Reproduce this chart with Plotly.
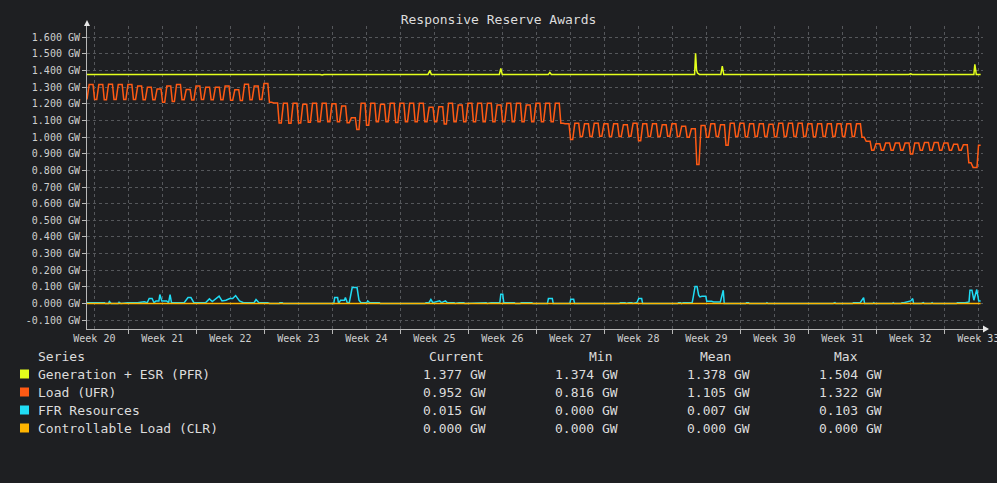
import plotly.graph_objects as go


# --- data (x in days from the left edge of the chart) ---

week_labels = ['Week %d' % w for w in range(20, 34)]

# Generation + ESR (PFR): flat with a few spikes
pfr_t = [0, 7.7, 7.85, 8.0, 15.5, 15.65, 15.8, 24.0, 24.2, 24.4, 35.1, 35.3, 35.45,
         41.0, 41.2, 41.35, 42.45, 42.6, 42.75, 47.5, 47.65, 47.8,
         62.55, 62.65, 62.75, 62.85, 63.05, 65.25, 65.4, 65.55,
         71.5, 71.7, 71.85, 84.6, 84.8, 84.95, 91.3, 91.4, 91.55, 92.0]
pfr_v = [1.377, 1.377, 1.381, 1.377, 1.377, 1.381, 1.377, 1.377, 1.374, 1.377, 1.377, 1.400, 1.377,
         1.377, 1.381, 1.377, 1.377, 1.413, 1.377, 1.377, 1.389, 1.377,
         1.377, 1.504, 1.403, 1.385, 1.377, 1.377, 1.427, 1.377,
         1.377, 1.374, 1.377, 1.377, 1.381, 1.377, 1.377, 1.437, 1.377, 1.377]

# Load (UFR): daily peak and trough, one value per day
load_day_high = [1.317, 1.317, 1.318, 1.317, 1.317, 1.307, 1.300, 1.290, 1.307, 1.317,
                 1.287, 1.307, 1.300, 1.300, 1.307, 1.285, 1.318, 1.307, 1.322,
                 1.205,
                 1.203, 1.203, 1.197, 1.203, 1.203, 1.200, 1.187, 1.117, 1.203, 1.203,
                 1.197, 1.203, 1.203, 1.203, 1.203, 1.179, 1.183, 1.203, 1.193, 1.203,
                 1.203, 1.203, 1.193, 1.203, 1.203, 1.193, 1.203, 1.203, 1.203,
                 1.080,
                 1.083, 1.080, 1.083, 1.080, 1.080, 1.075, 1.083, 1.080, 1.080, 1.075,
                 1.080, 1.065, 1.050, 1.070, 1.080, 1.075, 1.083, 1.083, 1.080, 1.080,
                 1.078, 1.083, 1.083, 1.083, 1.080, 1.080, 1.080, 1.080, 1.080, 1.080,
                 0.975,
                 0.960, 0.965, 0.965, 0.965, 0.965, 0.968, 0.968, 0.965, 0.958,
                 0.955, 0.818]
load_day_low = [1.227, 1.225, 1.227, 1.227, 1.227, 1.225, 1.225, 1.209, 1.215, 1.225,
                1.223, 1.227, 1.225, 1.225, 1.222, 1.220, 1.225, 1.227, 1.210,
                1.085,
                1.083, 1.085, 1.090, 1.093, 1.093, 1.093, 1.087, 1.046, 1.072, 1.093,
                1.093, 1.088, 1.093, 1.093, 1.093, 1.093, 1.079, 1.093, 1.093, 1.093,
                1.093, 1.093, 1.093, 1.093, 1.093, 1.093, 1.093, 1.093, 1.083,
                0.986,
                1.004, 1.004, 1.006, 1.004, 1.004, 1.006, 0.978, 1.004, 1.004, 1.006,
                1.004, 1.000, 0.836, 1.000, 1.004, 0.952, 1.004, 1.002, 1.004, 1.004,
                1.002, 1.004, 1.004, 1.004, 1.002, 1.004, 1.004, 1.004, 1.004, 1.000,
                0.922,
                0.922, 0.922, 0.922, 0.898, 0.922, 0.922, 0.922, 0.922, 0.922,
                0.846, 0.952]

# FFR Resources: mostly zero with small bumps
ffr_t = [0.0, 1.8, 1.9, 2.2, 2.3, 2.5, 3.2, 3.3, 3.5, 4.2, 5.2, 5.6, 5.9, 6.2, 6.4, 6.7, 6.9,
         7.1, 7.4, 7.5, 7.7, 8.2, 8.4, 8.55, 8.7, 10.0, 10.4, 10.7, 11.0, 12.2, 12.6, 12.9,
         13.1, 13.6, 13.9, 14.3, 14.7, 15.0, 15.3, 15.7, 16.1, 17.2, 17.4, 17.7, 18.6, 18.8,
         19.8, 19.85, 20.1, 20.2, 25.4, 25.5, 25.8, 25.9, 26.1, 26.5, 26.6, 26.8, 27.0,
         27.3, 27.8, 28.0, 28.2, 28.8, 28.9, 29.1, 29.8, 30.1, 30.2, 34.8, 34.9, 35.2,
         35.4, 35.6, 36.3, 36.5, 36.9, 37.1, 37.8, 37.9, 38.3, 38.8, 38.9, 40.7, 41.1,
         41.2, 41.6, 42.0, 42.5, 42.6, 42.8, 42.9, 44.0, 44.1, 44.6, 44.7, 45.8, 45.9,
         47.4, 47.5, 47.9, 48.0, 49.7, 49.8, 50.1, 50.2, 54.8, 54.9, 55.4, 55.5, 55.8,
         56.1, 56.2, 56.5, 56.6, 56.8, 57.1, 57.2, 60.8, 60.9, 61.1, 61.2, 61.4, 61.6,
         61.9, 62.3, 62.4, 62.6, 62.8, 62.97, 63.1, 63.3, 63.7, 63.8, 64.3, 64.5, 65.2,
         65.5, 65.6, 67.8, 67.9, 68.1, 68.2, 69.9, 70.0, 70.1, 76.8, 76.9, 77.0, 77.1,
         78.8, 78.9, 79.6, 79.95, 80.05, 80.9, 81.0, 81.1, 82.9, 83.0, 83.1, 83.8, 83.9,
         84.1, 84.8, 85.0, 85.1, 85.9, 86.0, 86.1, 86.2, 86.9, 87.0, 87.1, 89.5, 89.6,
         90.4, 90.8, 90.9, 91.1, 91.3, 91.6, 91.8, 92.0]
ffr_v = [0.005, 0.005, 0.0, 0.0, 0.012, 0.0, 0.0, 0.008, 0.0, 0.005, 0.005, 0.010, 0.010, 0.005, 0.030, 0.030, 0.005,
         0.016, 0.016, 0.054, 0.016, 0.016, 0.005, 0.054, 0.005, 0.005, 0.036, 0.036, 0.005, 0.005, 0.028, 0.012,
         0.020, 0.044, 0.016, 0.020, 0.030, 0.030, 0.048, 0.016, 0.005, 0.005, 0.024, 0.005, 0.005, 0.0,
         0.0, 0.005, 0.005, 0.0, 0.0, 0.036, 0.036, 0.0, 0.020, 0.020, 0.036, 0.005, 0.005,
         0.096, 0.096, 0.020, 0.005, 0.005, 0.016, 0.005, 0.005, 0.005, 0.0, 0.0, 0.005, 0.005,
         0.024, 0.005, 0.016, 0.005, 0.016, 0.005, 0.005, 0.0, 0.005, 0.005, 0.0, 0.005, 0.005,
         0.0, 0.005, 0.005, 0.005, 0.056, 0.056, 0.005, 0.005, 0.0, 0.0, 0.005, 0.005, 0.0,
         0.0, 0.030, 0.030, 0.0, 0.0, 0.026, 0.026, 0.0, 0.0, 0.005, 0.005, 0.0, 0.005,
         0.005, 0.0, 0.005, 0.005, 0.030, 0.030, 0.0, 0.0, 0.005, 0.005, 0.0, 0.005, 0.005,
         0.005, 0.005, 0.036, 0.103, 0.103, 0.050, 0.040, 0.044, 0.044, 0.014, 0.014, 0.010, 0.010,
         0.080, 0.0, 0.0, 0.005, 0.005, 0.0, 0.0, 0.005, 0.0, 0.0, 0.005, 0.005, 0.0,
         0.0, 0.005, 0.005, 0.036, 0.0, 0.0, 0.005, 0.0, 0.0, 0.005, 0.0, 0.0, 0.005,
         0.005, 0.016, 0.030, 0.0, 0.0, 0.005, 0.005, 0.0, 0.0, 0.005, 0.0, 0.0, 0.005,
         0.005, 0.010, 0.080, 0.080, 0.020, 0.084, 0.015, 0.015]

# Controllable Load (CLR): zero throughout
clr_t = [0.0, 92.0]
clr_v = [0.0, 0.0]

series_names = ['Generation + ESR (PFR)', 'Load (UFR)', 'FFR Resources', 'Controllable Load (CLR)']
series_colors = ['#e4ff1c', '#ff5a14', '#20dcf4', '#ffb400']
stat_current = ['1.377 GW', '0.952 GW', '0.015 GW', '0.000 GW']
stat_min = ['1.374 GW', '0.816 GW', '0.000 GW', '0.000 GW']
stat_mean = ['1.378 GW', '1.105 GW', '0.007 GW', '0.000 GW']
stat_max = ['1.504 GW', '1.322 GW', '0.103 GW', '0.000 GW']


# build the daily step shape of the load series from the per-day peak/trough values
load_x = [0.0]
load_y = [load_day_low[0]]
for d, (hi, lo) in enumerate(zip(load_day_high, load_day_low)):
    load_x += [d + 0.22, d + 0.62, d + 0.78, d + 1.0]
    load_y += [hi, hi, lo, lo]


BG = '#1e1f22'
GRID = '#55575b'
AXIS = '#b8b8b8'
TEXT = '#dcdcdc'
MONO = 'DejaVu Sans Mono'

W, H = 997, 483
L, R, T, B = 87, 14, 26, 154


def px(x):
    return (x - L) / (W - L - R)


def py(y):
    return (H - B - y) / (H - T - B)


fig = go.Figure()

for xs, ys, name, color in zip(
    [pfr_t, load_x, ffr_t, clr_t],
    [pfr_v, load_y, ffr_v, clr_v],
    series_names,
    series_colors,
):
    fig.add_trace(go.Scatter(x=xs, y=ys, mode='lines', name=name,
                             line=dict(color=color, width=1.5), showlegend=False))

fig.update_layout(
    width=W,
    height=H,
    paper_bgcolor=BG,
    plot_bgcolor=BG,
    margin=dict(l=L, r=R, t=T, b=B, pad=0, autoexpand=False),
    title=dict(text='Responsive Reserve Awards', x=0.5, xanchor='center',
               y=1 - 19 / H, yanchor='middle',
               font=dict(family=MONO, size=13, color=TEXT)),
    font=dict(family=MONO, color=TEXT),
)

fig.update_xaxes(
    range=[0, 92.24],
    automargin=False,
    tickvals=[0.76 + 7 * k for k in range(len(week_labels))],
    ticktext=week_labels,
    ticks='',
    ticklabeloverflow='allow',
    tickfont=dict(family=MONO, size=10, color='#cfcfcf'),
    showgrid=True, gridcolor=GRID, griddash='dot', gridwidth=1,
    minor=dict(tick0=4.26, dtick=7, ticks='outside', ticklen=4, tickcolor=AXIS,
               showgrid=True, gridcolor=GRID, griddash='dot', gridwidth=1),
    showline=True, linecolor=AXIS, linewidth=1,
    zeroline=False,
)

yticks = [round(-0.1 + 0.1 * k, 1) for k in range(18)]
fig.update_yaxes(
    range=[-0.153, 1.668],
    automargin=False,
    tickvals=yticks,
    ticktext=['%.3f GW' % v for v in yticks],
    ticks='outside', ticklen=4, tickcolor=AXIS,
    tickfont=dict(family=MONO, size=10, color='#cfcfcf'),
    showgrid=True, gridcolor=GRID, griddash='dot', gridwidth=1,
    showline=True, linecolor=AXIS, linewidth=1,
    zeroline=False,
)

# axis arrows
fig.add_shape(type='path', xref='x domain', yref='y domain', xsizemode='pixel', ysizemode='pixel',
              xanchor=1, yanchor=0, path='M 0 -3.5 L 6 0 L 0 3.5 Z',
              fillcolor='#e8e8e8', line=dict(width=0))
fig.add_shape(type='path', xref='x domain', yref='y domain', xsizemode='pixel', ysizemode='pixel',
              xanchor=0, yanchor=1, path='M -3 0 L 3 0 L 0 6 Z',
              fillcolor='#e8e8e8', line=dict(width=0))

# legend table underneath
fs = 13
fig.add_annotation(x=px(36), y=py(356), xref='paper', yref='paper', text='Series',
                   xanchor='left', yanchor='middle', showarrow=False,
                   font=dict(family=MONO, size=fs, color=TEXT))
for head, cx in [('Current', 456), ('Min', 600), ('Mean', 715), ('Max', 846)]:
    fig.add_annotation(x=px(cx), y=py(356), xref='paper', yref='paper', text=head,
                       xanchor='center', yanchor='middle', showarrow=False,
                       font=dict(family=MONO, size=fs, color=TEXT))

for i, (name, color) in enumerate(zip(series_names, series_colors)):
    ry = 374 + 18 * i
    fig.add_shape(type='rect', xref='paper', yref='paper',
                  x0=px(20), x1=px(29), y0=py(ry + 4.5), y1=py(ry - 4.5),
                  fillcolor=color, line=dict(width=0))
    fig.add_annotation(x=px(36), y=py(ry), xref='paper', yref='paper', text=name,
                       xanchor='left', yanchor='middle', showarrow=False,
                       font=dict(family=MONO, size=fs, color=TEXT))
    for col, rx in zip([stat_current, stat_min, stat_mean, stat_max], [488, 620, 752, 884]):
        fig.add_annotation(x=px(rx), y=py(ry), xref='paper', yref='paper', text=col[i],
                           xanchor='right', yanchor='middle', showarrow=False,
                           font=dict(family=MONO, size=fs, color=TEXT))

fig.write_html('out.html', config={'displayModeBar': False},
               post_script="document.body.style.margin='0';"
                           "document.body.style.background='%s';" % BG)
